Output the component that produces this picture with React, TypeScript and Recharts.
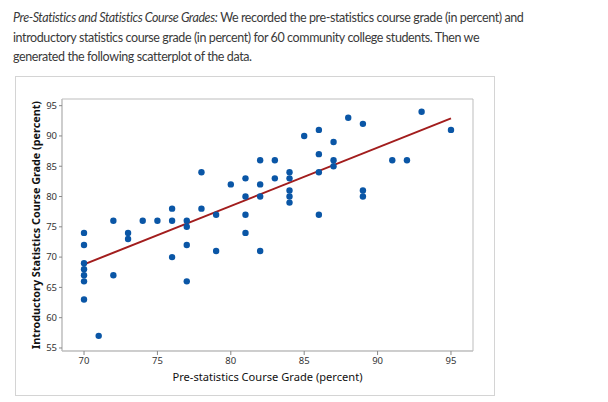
import React from 'react';
import { ScatterChart, Scatter, XAxis, YAxis, ReferenceLine, ReferenceArea } from 'recharts';

// pre-statistics grade (x) and intro statistics grade (y) for each student
const preStats = [
    70, 70, 70, 70, 70, 70, 70, 71, 72, 72, 73, 73, 74, 75, 76, 76, 76,
    77, 77, 77, 77, 78, 78, 79, 79, 80, 81, 81, 81, 81, 82, 82, 82, 82,
    83, 83, 84, 84, 84, 84, 84, 85, 86, 86, 86, 86, 87, 87, 87, 88,
    89, 89, 89, 91, 92, 93, 95
];
const statGrades = [
    74, 72, 69, 68, 67, 66, 63, 57, 76, 67, 74, 73, 76, 76, 76, 78, 70,
    76, 75, 72, 66, 78, 84, 77, 71, 82, 83, 80, 77, 74, 86, 82, 80, 71,
    86, 83, 84, 83, 81, 80, 79, 90, 91, 87, 84, 77, 89, 86, 85, 93,
    92, 81, 80, 86, 86, 94, 91
];

// fitted line end points
const fitX = [70, 95];
const fitY = [68.8, 92.9];

const xTicks = [70, 75, 80, 85, 90, 95];
const yTicks = [55, 60, 65, 70, 75, 80, 85, 90, 95];

const points = preStats.map((x, i) => ({ x, y: statGrades[i] }));

const DOT = '#0a56a6';
const FIT = '#a21d1d';
const FRAME = '#bdbdbd';
const axisFont = '"Noto Sans", "DejaVu Sans", sans-serif';

function YTitle(props: any) {
    const vb = props.viewBox || { x: 0, y: 0, width: 0, height: 0 };
    const cx = 19;
    const cy = vb.y + vb.height / 2;
    return (
        <text x={cx} y={cy} transform={`rotate(-90 ${cx} ${cy})`} textAnchor="middle"
            dominantBaseline="central" fontSize={11} fontWeight="bold" fill="#111" fontFamily={axisFont}
            textLength={248} lengthAdjust="spacingAndGlyphs">
            Introductory Statistics Course Grade (percent)
        </text>
    );
}

function XTitle(props: any) {
    const vb = props.viewBox || { x: 0, y: 0, width: 0, height: 0 };
    return (
        <text x={vb.x + vb.width / 2} y={299} textAnchor="middle" dominantBaseline="central"
            fontSize={11} fill="#111" fontFamily={axisFont}
            textLength={190} lengthAdjust="spacingAndGlyphs">
            Pre-statistics Course Grade (percent)
        </text>
    );
}

const Dot = (p: any) => <circle cx={p.cx} cy={p.cy} r={3.2} fill={DOT} />;

export default function App() {
    return (
        <div style={{ position: 'fixed', left: 0, top: 0, width: 608, height: 402, background: '#fff' }}>
            <p style={{
                position: 'absolute', left: 13, top: 8, width: 580, margin: 0,
                fontFamily: 'Lato, sans-serif', fontSize: 12.5, letterSpacing: '-0.4px',
                lineHeight: '19.5px', color: '#3a3a3a', whiteSpace: 'nowrap'
            }}>
                <i>Pre-Statistics and Statistics Course Grades:</i> We recorded the pre-statistics course grade (in percent) and<br />
                introductory statistics course grade (in percent) for 60 community college students. Then we<br />
                generated the following scatterplot of the data.
            </p>
            <div style={{
                position: 'absolute', left: 15, top: 76, width: 478, height: 318,
                border: '1px solid #d4d4d4'
            }}>
                <ScatterChart width={478} height={318} margin={{ top: 22, right: 21, bottom: 0, left: 0 }}>
                    <XAxis
                        type="number" dataKey="x" domain={[68.5, 96.5]} ticks={xTicks}
                        height={44} tickSize={4} tickMargin={2}
                        axisLine={{ stroke: FRAME }} tickLine={{ stroke: '#888' }}
                        tick={{ fontSize: 9.5, fill: '#333', fontFamily: axisFont }}
                        label={<XTitle />}
                    />
                    <YAxis
                        type="number" dataKey="y" domain={[54.5, 96.1]} ticks={yTicks}
                        width={46} tickSize={3} tickMargin={2}
                        axisLine={{ stroke: FRAME }} tickLine={{ stroke: '#888' }}
                        tick={{ fontSize: 9.5, fill: '#333', fontFamily: axisFont }}
                        label={<YTitle />}
                    />
                    <ReferenceArea x1={68.5} x2={96.5} y1={54.5} y2={96.1} fill="none" stroke={FRAME} />
                    <Scatter data={points} shape={Dot} isAnimationActive={false} />
                    <ReferenceLine
                        segment={[{ x: fitX[0], y: fitY[0] }, { x: fitX[1], y: fitY[1] }]}
                        stroke={FIT} strokeWidth={2}
                    />
                </ScatterChart>
            </div>
        </div>
    );
}
